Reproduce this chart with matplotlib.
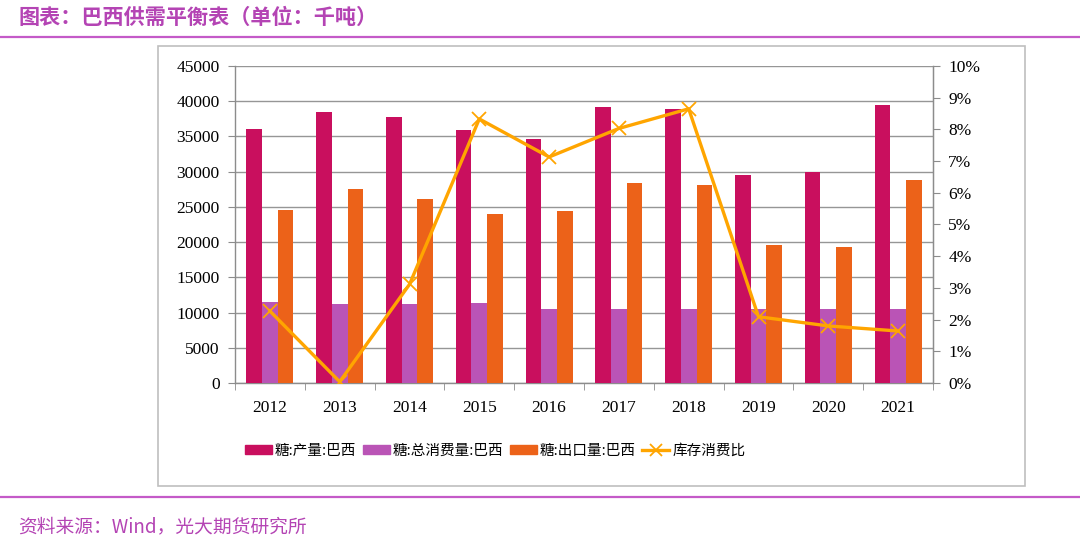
import matplotlib
matplotlib.use("Agg")
import matplotlib.pyplot as plt
import numpy as np
from matplotlib.patches import Rectangle, Patch
from matplotlib.lines import Line2D

years = ["2012", "2013", "2014", "2015", "2016", "2017", "2018", "2019", "2020", "2021"]
production = [36100, 38520, 37720, 35920, 34640, 39140, 38860, 29490, 29910, 39470]
consumption = [11500, 11180, 11200, 11360, 10500, 10550, 10550, 10550, 10550, 10550]
exports = [24560, 27590, 26170, 23950, 24420, 28440, 28150, 19550, 19270, 28820]
stock_ratio = [2.27, 0.04, 3.11, 8.33, 7.13, 8.03, 8.65, 2.09, 1.80, 1.64]

labels = ["糖:产量:巴西", "糖:总消费量:巴西", "糖:出口量:巴西", "库存消费比"]
c_prod = "#C90F5E"
c_cons = "#BA54B6"
c_exp = "#EC6219"
c_line = "#FFA500"
purple = "#C45AC8"

plt.rcParams['font.family'] = ['Noto Sans CJK SC', 'DejaVu Sans']

W, H = 1080, 552
fig = plt.figure(figsize=(W / 100, H / 100), dpi=100)

def fx(px):
    return px / W

def fy(py):
    return 1 - py / H

# decorations
fig.add_artist(Line2D([0, 1], [fy(37), fy(37)], color=purple, lw=1.6, transform=fig.transFigure))
fig.add_artist(Line2D([0, 1], [fy(497), fy(497)], color=purple, lw=1.6, transform=fig.transFigure))
fig.add_artist(Rectangle((fx(158), fy(486)), fx(1025) - fx(158), fy(46) - fy(486),
                         fill=False, edgecolor="#BFBFBF", lw=1.2, transform=fig.transFigure))
fig.text(fx(18), fy(17), "图表：巴西供需平衡表（单位：千吨）", color="#B444B4",
         fontsize=15.2, fontweight="bold", va="center", ha="left")
fig.text(fx(18), fy(527), "资料来源：Wind，光大期货研究所", color="#B444B4",
         fontsize=13.5, va="center", ha="left", style="italic")

ax = fig.add_axes([fx(235), fy(383), fx(933) - fx(235), fy(66) - fy(383)])
x = np.arange(len(years))
bw = 0.225
ax.bar(x - bw, production, bw, color=c_prod, zorder=3)
ax.bar(x, consumption, bw, color=c_cons, zorder=3)
ax.bar(x + bw, exports, bw, color=c_exp, zorder=3)
ax.set_xlim(-0.5, len(years) - 0.5)
ax.set_ylim(0, 45000)
ax.set_yticks(np.arange(0, 45001, 5000))
ax.yaxis.grid(True, color="#969696", lw=1.0, zorder=0)
ax.set_axisbelow(True)
ax.set_xticks(x)
ax.set_xticklabels(years)
ax.set_xticks(np.arange(-0.5, len(years)), minor=True)
ax.tick_params(axis="x", which="major", length=0, pad=12)
ax.tick_params(axis="x", which="minor", length=5, color="#8C8C8C", direction="out")
ax.tick_params(axis="y", length=5, color="#8C8C8C", direction="out", pad=6)
for lab in ax.get_xticklabels() + ax.get_yticklabels():
    lab.set_fontfamily("Liberation Serif")
    lab.set_fontsize(12.5)
for s in ["top"]:
    ax.spines[s].set_visible(False)
for s in ["left", "bottom", "right"]:
    ax.spines[s].set_color("#8C8C8C")
    ax.spines[s].set_linewidth(1.0)

ax2 = ax.twinx()
ax2.plot(x, stock_ratio, color=c_line, lw=2.4, marker="x", markersize=10,
         markeredgewidth=1.3, zorder=5)
ax2.set_ylim(0, 10)
ax2.set_yticks(np.arange(0, 11, 1))
ax2.set_yticklabels([f"{i}%" for i in range(11)])
ax2.tick_params(axis="y", length=5, color="#8C8C8C", direction="out", pad=6)
for lab in ax2.get_yticklabels():
    lab.set_fontfamily("Liberation Serif")
    lab.set_fontsize(12.5)
for s in ["top", "left", "bottom"]:
    ax2.spines[s].set_visible(False)
ax2.spines["right"].set_color("#8C8C8C")

handles = [Patch(color=c_prod), Patch(color=c_cons), Patch(color=c_exp),
           Line2D([], [], color=c_line, lw=2.4, marker="x", markersize=9, markeredgewidth=1.3)]
fig.legend(handles, labels, loc="center", bbox_to_anchor=(fx(495), fy(451)), ncol=4,
           frameon=False, fontsize=10.5, handlelength=1.85, handleheight=0.6,
           handletextpad=0.2, columnspacing=0.45)

fig.savefig("out.png", dpi=100)
